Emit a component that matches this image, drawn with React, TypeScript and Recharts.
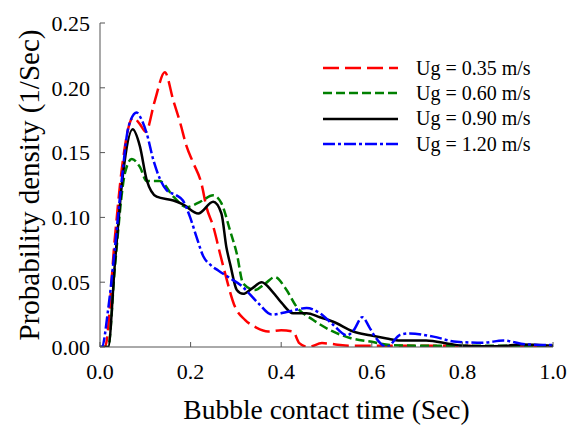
import { LineChart, Line, XAxis, YAxis, Legend } from "recharts"

// contact time (s) and density for each superficial gas velocity
const t035 = [0, 0.011, 0.033, 0.048, 0.073, 0.088, 0.101, 0.121, 0.143, 0.162, 0.177, 0.191, 0.206, 0.224, 0.235, 0.25, 0.265, 0.276, 0.298, 0.32, 0.345, 0.371, 0.4, 0.426, 0.44, 0.46, 0.49, 0.52, 0.55, 0.6, 0.7, 0.8, 0.9, 1.0]
const v035 = [0, 0, 0.085, 0.137, 0.177, 0.172, 0.166, 0.19, 0.212, 0.19, 0.173, 0.155, 0.142, 0.126, 0.108, 0.093, 0.072, 0.057, 0.031, 0.021, 0.015, 0.012, 0.013, 0.012, 0.003, 0, 0.003, 0.002, 0.001, 0.001, 0.001, 0.001, 0, 0]

const t060 = [0, 0.018, 0.033, 0.055, 0.07, 0.088, 0.103, 0.132, 0.162, 0.191, 0.221, 0.25, 0.268, 0.287, 0.302, 0.316, 0.342, 0.365, 0.386, 0.41, 0.434, 0.47, 0.514, 0.552, 0.6, 0.64, 0.7, 0.8, 0.9, 1.0]
const v060 = [0, 0, 0.062, 0.134, 0.145, 0.139, 0.128, 0.128, 0.116, 0.108, 0.112, 0.117, 0.111, 0.09, 0.072, 0.049, 0.044, 0.049, 0.054, 0.045, 0.031, 0.021, 0.012, 0.007, 0.004, 0.0015, 0.001, 0.001, 0.001, 0.001]

const t090 = [0, 0.018, 0.033, 0.051, 0.072, 0.088, 0.103, 0.125, 0.162, 0.183, 0.217, 0.25, 0.268, 0.279, 0.288, 0.302, 0.316, 0.335, 0.357, 0.38, 0.401, 0.426, 0.456, 0.485, 0.515, 0.559, 0.596, 0.633, 0.662, 0.72, 0.773, 0.8, 0.85, 0.9, 0.93, 1.0]
const v090 = [0, 0, 0.065, 0.134, 0.168, 0.155, 0.129, 0.116, 0.113, 0.11, 0.103, 0.112, 0.103, 0.077, 0.063, 0.044, 0.041, 0.045, 0.05, 0.043, 0.034, 0.026, 0.026, 0.023, 0.0195, 0.012, 0.009, 0.0065, 0.005, 0.005, 0.0023, 0.001, 0.0005, 0.001, 0.002, 0.001]

const t120 = [0, 0.004, 0.018, 0.033, 0.048, 0.063, 0.081, 0.088, 0.103, 0.118, 0.132, 0.147, 0.169, 0.183, 0.199, 0.213, 0.228, 0.245, 0.261, 0.283, 0.313, 0.349, 0.379, 0.412, 0.456, 0.486, 0.515, 0.545, 0.56, 0.579, 0.595, 0.607, 0.633, 0.662, 0.684, 0.736, 0.787, 0.846, 0.89, 0.942, 1.0]
const v120 = [0, 0, 0.029, 0.077, 0.129, 0.17, 0.181, 0.178, 0.165, 0.144, 0.13, 0.121, 0.117, 0.113, 0.1, 0.085, 0.07, 0.063, 0.059, 0.054, 0.047, 0.034, 0.025, 0.027, 0.03, 0.026, 0.017, 0.009, 0.013, 0.023, 0.015, 0.008, 0, 0.0093, 0.0105, 0.008, 0.004, 0.0033, 0.005, 0.002, 0.0015]

const xTicks = [0, 0.2, 0.4, 0.6, 0.8, 1.0]
const yTicks = [0, 0.05, 0.1, 0.15, 0.2, 0.25]

const toPoints = (ts: number[], vs: number[]) => ts.map((t, i) => ({ t, v: vs[i] }))

const series = [
  { name: "Ug = 0.35 m/s", color: "#ff0000", dash: "16 6", data: toPoints(t035, v035) },
  { name: "Ug = 0.60 m/s", color: "#008000", dash: "9 4", data: toPoints(t060, v060) },
  { name: "Ug = 0.90 m/s", color: "#000000", dash: undefined, data: toPoints(t090, v090) },
  { name: "Ug = 1.20 m/s", color: "#0000ff", dash: "12 3 3 3", data: toPoints(t120, v120) }
]

function LegendBox() {
  return (
    <div style={{ fontSize: 20, color: "#000" }}>
      {series.map(s => (
        <div key={s.name} style={{ display: "flex", alignItems: "center", height: 25.3 }}>
          <svg width={75} height={6} style={{ marginRight: 18 }}>
            <line x1={0} y1={3} x2={75} y2={3} stroke={s.color} strokeWidth={2.5} strokeDasharray={s.dash} />
          </svg>
          <span>{s.name}</span>
        </div>
      ))}
    </div>
  )
}

const axisColor = "#555"

export default function App() {
  return (
    <div style={{ position: "absolute", left: 0, top: 0, fontFamily: '"Liberation Serif", "Times New Roman", serif' }}>
      <LineChart width={570} height={425} margin={{ top: 23, right: 17, bottom: 0, left: 0 }}>
        <XAxis
          dataKey="t"
          type="number"
          domain={[0, 1]}
          ticks={xTicks}
          allowDataOverflow
          tickFormatter={(v: number) => v.toFixed(1)}
          tickSize={-5}
          tickMargin={21}
          height={78}
          stroke={axisColor}
          tick={{ fill: "#000", fontSize: 22 }}
          label={{ value: "Bubble contact time (Sec)", position: "insideBottom", offset: 6, style: { fontSize: 27.5, fill: "#000" } }}
        />
        <XAxis
          xAxisId="top"
          orientation="top"
          type="number"
          domain={[0, 1]}
          ticks={xTicks}
          tickFormatter={() => ""}
          tickSize={-5}
          height={0}
          stroke={axisColor}
        />
        <YAxis
          type="number"
          domain={[0, 0.25]}
          ticks={yTicks}
          allowDataOverflow
          tickFormatter={(v: number) => v.toFixed(2)}
          tickSize={-5}
          tickMargin={15}
          width={100}
          stroke={axisColor}
          tick={{ fill: "#000", fontSize: 22 }}
          label={{ value: "Probability density (1/Sec)", angle: -90, position: "insideLeft", offset: 29, style: { textAnchor: "middle", fontSize: 29, fill: "#000" } }}
        />
        <YAxis
          yAxisId="right"
          orientation="right"
          type="number"
          domain={[0, 0.25]}
          ticks={yTicks}
          tickFormatter={() => ""}
          tickSize={-5}
          width={0}
          stroke={axisColor}
        />
        <Legend
          layout="vertical"
          align="center"
          verticalAlign="middle"
          content={() => <LegendBox />}
          wrapperStyle={{ left: 323, top: 55.5, width: 240 }}
        />
        {series.map(s => (
          <Line
            key={s.name}
            data={s.data}
            dataKey="v"
            name={s.name}
            type="monotone"
            stroke={s.color}
            strokeWidth={2.5}
            strokeDasharray={s.dash}
            dot={false}
            isAnimationActive={false}
          />
        ))}
      </LineChart>
    </div>
  )
}
